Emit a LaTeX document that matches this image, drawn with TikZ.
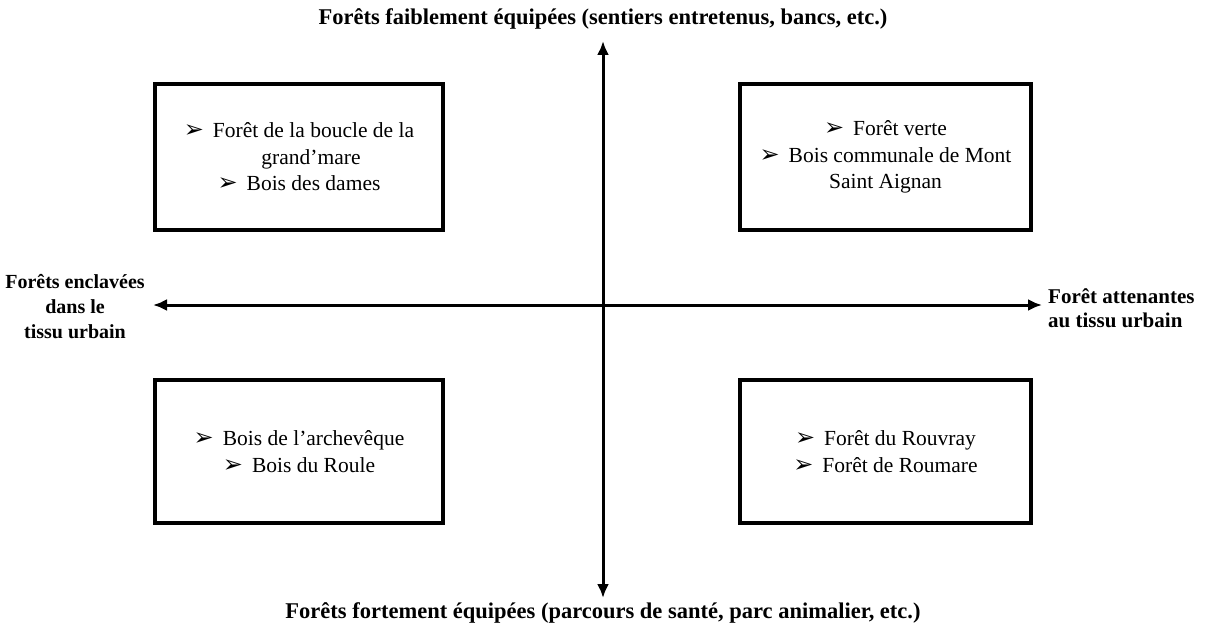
\documentclass[tikz,border=0pt]{standalone}
\usepackage{fontspec}
\setmainfont{Liberation Serif}
\newfontfamily\dejavu{DejaVu Sans}
\usetikzlibrary{arrows.meta}
\newcommand{\bul}{{\dejavu\fontsize{24}{24}\selectfont ➢}\hspace{9pt}}
\begin{document}
\begin{tikzpicture}[x=1pt,y=-1pt,
  quad/.style={draw, line width=4pt, inner sep=0pt, align=center,
    font=\fontsize{21.5}{26.5}\selectfont},
  axis/.style={line width=3pt, {Latex[length=14pt,width=12pt]}-{Latex[length=14pt,width=12pt]}},
  lab/.style={font=\bfseries\fontsize{22.5}{25}\selectfont, inner sep=0pt},
  sidelab/.style={font=\bfseries\fontsize{20}{25}\selectfont, inner sep=0pt},
  rightlab/.style={font=\bfseries\fontsize{21}{24}\selectfont, inner sep=0pt}]
\useasboundingbox (0,0) rectangle (1209,634);
\node[quad, minimum width=288pt, minimum height=146pt] (tl) at (299,157)
  {\bul Forêt de la boucle de la\\ \hspace{24pt}grand’mare\\ \bul Bois des dames};
\node[quad, minimum width=291pt, minimum height=146pt] (tr) at (885.5,157)
  {\bul Forêt verte\\ \bul Bois communale de Mont\\ Saint Aignan};
\node[quad, minimum width=288pt, minimum height=143pt] (bl) at (299,451.5)
  {\bul Bois de l’archevêque\\ \bul Bois du Roule};
\node[quad, minimum width=291pt, minimum height=143pt] (br) at (885.5,451.5)
  {\bul Forêt du Rouvray\\ \bul Forêt de Roumare};
\coordinate (top) at (603,41);
\coordinate (bot) at (603,598);
\coordinate (lft) at (153,305);
\coordinate (rgt) at (1042,305);
\draw[axis] (bot) -- (top);
\draw[axis] (lft) -- (rgt);
\node[lab] (tlab) at (603,19) {Forêts faiblement équipées (sentiers entretenus, bancs, etc.)};
\node[lab] (blab) at (603,613) {Forêts fortement équipées (parcours de santé, parc animalier, etc.)};
\node[sidelab, align=center] (llab) at (75,307) {Forêts enclavées\\dans le\\tissu urbain};
\node[rightlab, align=left, anchor=west] (rlab) at (1048,308) {Forêt attenantes\\au tissu urbain};
\end{tikzpicture}
\end{document}
